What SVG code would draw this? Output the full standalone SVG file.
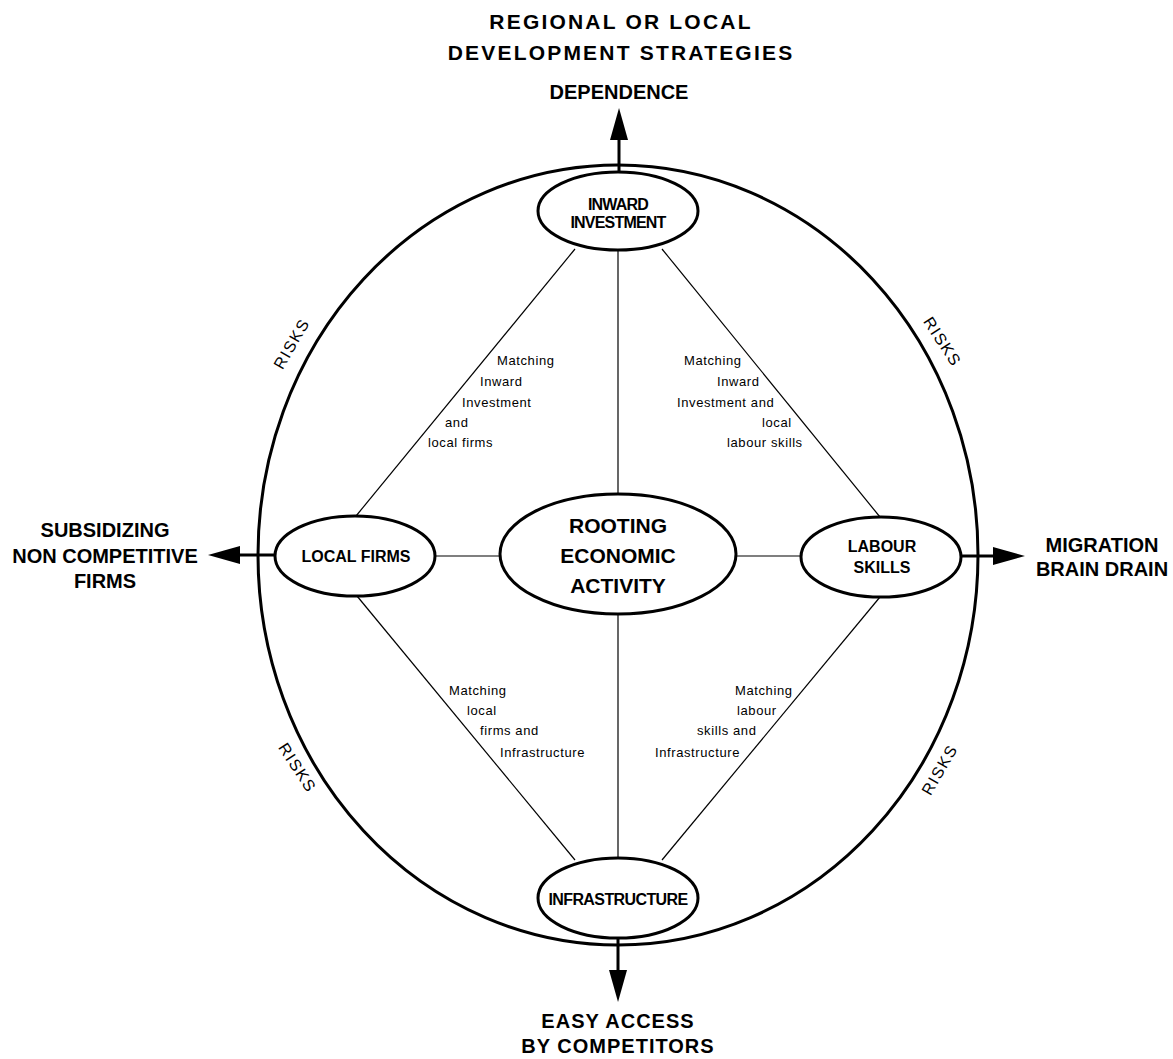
<svg xmlns="http://www.w3.org/2000/svg" width="1173" height="1059" viewBox="0 0 1173 1059">
<style>
.bg{fill:#fff}
.outer{fill:none;stroke:#000;stroke-width:3}
.node{fill:#fff;stroke:#000;stroke-width:3}
.thin{stroke:#000;stroke-width:1.2;fill:none}
.stem{stroke:#000;stroke-width:3;fill:none}
.big{font-family:"Liberation Sans",Arial,sans-serif;font-weight:bold;font-size:20px;text-anchor:middle;fill:#000}
.title{font-size:21px;letter-spacing:2.2px}
.nl{font-family:"Liberation Sans",Arial,sans-serif;font-weight:bold;font-size:16px;text-anchor:middle;fill:#000}
.cl{font-family:"Liberation Sans",Arial,sans-serif;font-weight:bold;font-size:21px;text-anchor:middle;fill:#000}
.sm{font-family:"Liberation Sans",Arial,sans-serif;font-size:13px;letter-spacing:0.6px;fill:#000}
.risk{font-family:"Liberation Sans",Arial,sans-serif;font-size:16px;letter-spacing:1.5px;text-anchor:middle;fill:#000}
</style>
<defs>
<marker id="ah" viewBox="0 0 32 18" markerWidth="32" markerHeight="18" refX="0" refY="9" orient="auto" markerUnits="userSpaceOnUse">
<path d="M0,0 L32,9 L0,18 z" fill="#000"/>
</marker>
</defs>
<rect class="bg" x="0" y="0" width="1173" height="1059"/>
<g id="titles">
<text class="big title" x="621" y="29">REGIONAL OR LOCAL</text>
<text class="big title" x="621" y="60">DEVELOPMENT STRATEGIES</text>
<text class="big" x="619" y="99">DEPENDENCE</text>
<text class="big" x="105" y="537">SUBSIDIZING</text>
<text class="big" x="105" y="563">NON COMPETITIVE</text>
<text class="big" x="105" y="588">FIRMS</text>
<text class="big" x="1102" y="552">MIGRATION</text>
<text class="big" x="1102" y="576">BRAIN DRAIN</text>
<text class="big" x="618" y="1028" style="letter-spacing:1px">EASY ACCESS</text>
<text class="big" x="618" y="1053" style="letter-spacing:1px">BY COMPETITORS</text>
</g>
<g id="boundary">
<ellipse class="outer" cx="618" cy="555" rx="360" ry="390"/>
<text class="risk" transform="translate(292,344) rotate(-60)" y="5">RISKS</text>
<text class="risk" transform="translate(942,342) rotate(57)" y="5">RISKS</text>
<text class="risk" transform="translate(297,768) rotate(57)" y="5">RISKS</text>
<text class="risk" transform="translate(940,770) rotate(-60)" y="5">RISKS</text>
</g>
<g id="connectors">
<line class="thin" x1="618" y1="250" x2="618" y2="494"/>
<line class="thin" x1="618" y1="614" x2="618" y2="858"/>
<line class="thin" x1="435" y1="556" x2="500" y2="556"/>
<line class="thin" x1="737" y1="556" x2="801" y2="556"/>
<line class="thin" x1="575" y1="249" x2="356" y2="516"/>
<line class="thin" x1="662" y1="249" x2="880" y2="517"/>
<line class="thin" x1="357" y1="596" x2="575" y2="860"/>
<line class="thin" x1="880" y1="597" x2="662" y2="860"/>
<line class="stem" x1="619" y1="172" x2="619" y2="140" marker-end="url(#ah)"/>
<line class="stem" x1="276" y1="555" x2="240" y2="555" marker-end="url(#ah)"/>
<line class="stem" x1="962" y1="556" x2="993" y2="556" marker-end="url(#ah)"/>
<line class="stem" x1="618" y1="938" x2="618" y2="970" marker-end="url(#ah)"/>
<text class="sm" x="497" y="365">Matching</text>
<text class="sm" x="480" y="386">Inward</text>
<text class="sm" x="462" y="407">Investment</text>
<text class="sm" x="445" y="427">and</text>
<text class="sm" x="428" y="447">local firms</text>
<text class="sm" x="684" y="365">Matching</text>
<text class="sm" x="717" y="386">Inward</text>
<text class="sm" x="677" y="407">Investment and</text>
<text class="sm" x="762" y="427">local</text>
<text class="sm" x="727" y="447">labour skills</text>
<text class="sm" x="449" y="695">Matching</text>
<text class="sm" x="467" y="715">local</text>
<text class="sm" x="480" y="735">firms and</text>
<text class="sm" x="500" y="757">Infrastructure</text>
<text class="sm" x="735" y="695">Matching</text>
<text class="sm" x="737" y="715">labour</text>
<text class="sm" x="697" y="735">skills and</text>
<text class="sm" x="655" y="757">Infrastructure</text>
</g>
<g id="inward">
<ellipse class="node" cx="618" cy="211" rx="80" ry="39"/>
<text class="nl" x="618" y="210" style="letter-spacing:-0.8px">INWARD</text>
<text class="nl" x="618" y="228" style="letter-spacing:-0.8px">INVESTMENT</text>
</g>
<g id="localfirms">
<ellipse class="node" cx="355" cy="556" rx="80" ry="40"/>
<text class="nl" x="356" y="562">LOCAL FIRMS</text>
</g>
<g id="rooting">
<ellipse class="node" cx="618" cy="554" rx="118" ry="60"/>
<text class="cl" x="618" y="533">ROOTING</text>
<text class="cl" x="618" y="563">ECONOMIC</text>
<text class="cl" x="618" y="593">ACTIVITY</text>
</g>
<g id="labour">
<ellipse class="node" cx="881" cy="557" rx="80" ry="40"/>
<text class="nl" x="882" y="552">LABOUR</text>
<text class="nl" x="882" y="573">SKILLS</text>
</g>
<g id="infrastructure">
<ellipse class="node" cx="618" cy="898" rx="80" ry="40"/>
<text class="nl" x="618" y="905" style="letter-spacing:-0.6px">INFRASTRUCTURE</text>
</g>
</svg>
